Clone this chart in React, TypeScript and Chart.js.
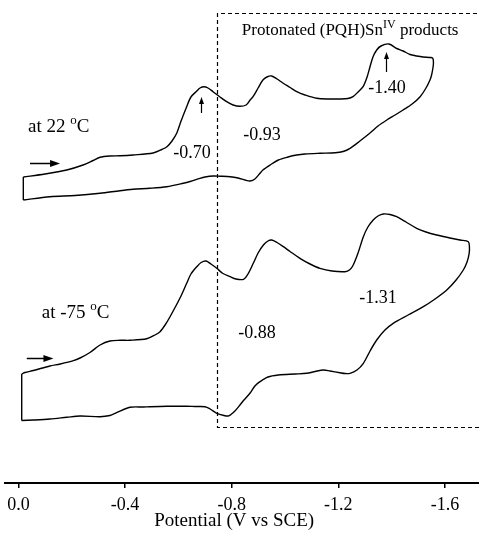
import React, { useEffect, useRef } from "react";
import { Chart, registerables } from "chart.js";

Chart.register(...registerables);

// ---- x axis ticks (V vs SCE)
const X_TICKS = [0, -0.4, -0.8, -1.2, -1.6];
const X_TITLE = "Potential (V vs SCE)";

// ---- CV at 22 °C (arbitrary current units, offset trace)
const rtPotential = [
  -0.018, -0.099, -0.181, -0.242, -0.280, -0.306, -0.343, -0.381, -0.430, -0.505,
  -0.538, -0.557, -0.576, -0.594, -0.610, -0.631, -0.647, -0.669, -0.681, -0.696,
  -0.711, -0.730, -0.756, -0.781, -0.805, -0.831, -0.854, -0.869, -0.880, -0.899,
  -0.917, -0.932, -0.950, -0.970, -0.992, -1.019, -1.044, -1.075, -1.119, -1.169,
  -1.206, -1.236, -1.255, -1.274, -1.293, -1.308, -1.319, -1.330, -1.344, -1.360,
  -1.390, -1.419, -1.443, -1.469, -1.494, -1.518, -1.548, -1.555,
  -1.557, -1.555, -1.550, -1.544, -1.529, -1.507, -1.477, -1.443, -1.413, -1.382,
  -1.349, -1.319, -1.281, -1.244, -1.218, -1.188, -1.131, -1.075, -1.044, -1.011,
  -0.975, -0.944, -0.917, -0.906, -0.887, -0.869, -0.850, -0.824, -0.794, -0.756,
  -0.731, -0.700, -0.681, -0.644, -0.618, -0.556, -0.493, -0.430, -0.381, -0.306,
  -0.212, -0.118, -0.018,
];
const rtCurrent = [
  30.6, 30.9, 31.3, 31.8, 32.25, 32.57, 32.7, 32.72, 32.8, 33.0,
  33.35, 33.63, 34.2, 35.0, 36.2, 37.63, 38.6, 39.2, 39.5, 39.63,
  39.5, 39.13, 38.6, 38.13, 37.8, 37.67, 37.8, 38.3, 38.63, 39.5,
  40.3, 40.6, 40.7, 40.4, 40.0, 39.55, 39.13, 38.8, 38.47, 38.4,
  38.4, 38.45, 38.63, 39.1, 39.63, 40.6, 41.63, 42.6, 43.3, 43.7,
  43.9, 43.45, 43.2, 42.85, 42.7, 42.6, 42.55, 42.45,
  42.0, 41.5, 40.8, 40.3, 39.5, 38.63, 37.9, 37.3, 36.8, 36.3,
  35.7, 35.0, 34.2, 33.47, 33.15, 33.02, 32.97, 32.9, 32.8, 32.6,
  32.3, 31.8, 31.3, 30.97, 30.4, 30.2, 30.3, 30.5, 30.63, 30.68,
  30.7, 30.6, 30.47, 30.15, 29.97, 29.63, 29.47, 29.37, 29.23, 28.97,
  28.75, 28.63, 28.3,
];

// ---- CV at -75 °C
const ltPotential = [
  -0.012, -0.024, -0.056, -0.118, -0.156, -0.206, -0.231, -0.268, -0.306, -0.343,
  -0.381, -0.418, -0.481, -0.512, -0.531, -0.550, -0.568, -0.606, -0.631, -0.647,
  -0.669, -0.685, -0.704, -0.722, -0.744, -0.767, -0.794, -0.816, -0.844, -0.861,
  -0.881, -0.899, -0.919, -0.936, -0.950, -0.970, -0.994, -1.019, -1.056, -1.094,
  -1.131, -1.176, -1.225, -1.244, -1.256, -1.274, -1.294, -1.311, -1.331, -1.349,
  -1.369, -1.394, -1.419, -1.454, -1.494, -1.529, -1.569, -1.619, -1.657, -1.688,
  -1.692, -1.691, -1.683, -1.669, -1.642, -1.607, -1.563, -1.519, -1.462, -1.406,
  -1.375, -1.344, -1.319, -1.294, -1.270, -1.244, -1.225, -1.206, -1.169, -1.144,
  -1.113, -1.081, -1.038, -0.975, -0.936, -0.906, -0.887, -0.869, -0.846, -0.831,
  -0.812, -0.797, -0.787, -0.771, -0.744, -0.719, -0.700, -0.662, -0.631, -0.556,
  -0.493, -0.468, -0.418, -0.368, -0.343, -0.306, -0.231, -0.181, -0.118, -0.056,
  -0.012,
];
const ltCurrent = [
  10.9, 11.05, 11.25, 11.7, 11.9, 12.23, 12.5, 13.05, 13.8, 14.2,
  14.27, 14.27, 14.42, 14.8, 15.13, 15.8, 16.6, 18.5, 19.97, 20.9,
  21.63, 22.05, 22.2, 21.9, 21.47, 20.95, 20.63, 20.4, 20.37, 20.9,
  21.97, 23.0, 23.8, 24.2, 24.3, 24.05, 23.63, 23.15, 22.47, 21.9,
  21.47, 21.2, 21.13, 21.35, 21.8, 23.0, 24.63, 25.6, 26.3, 26.7,
  26.9, 26.85, 26.63, 26.1, 25.47, 25.1, 24.8, 24.5, 24.3, 24.13,
  23.6, 22.97, 22.1, 21.3, 20.3, 19.3, 18.4, 17.63, 16.8, 15.97,
  15.3, 14.3, 13.2, 11.97, 11.3, 10.97, 10.95, 11.03, 11.2, 11.3,
  11.15, 10.97, 10.9, 10.8, 10.6, 10.13, 9.7, 9.0, 8.3, 7.8,
  7.2, 6.85, 6.7, 6.75, 6.97, 7.4, 7.63, 7.65, 7.67, 7.67,
  7.63, 7.6, 7.57, 7.03, 6.75, 6.63, 6.7, 6.57, 6.4, 6.3,
  6.25,
];

// ---- peak labels
const peakLabels = ["-0.70", "-0.93", "-1.40", "-0.88", "-1.31"];
const peakLabelPotential = [-0.651, -0.914, -1.383, -0.895, -1.349];
const peakLabelCurrent = [32.5, 34.3, 39.0, 14.5, 18.0];

const FONT = "'Liberation Serif', 'Times New Roman', serif";

function toPoints(xs: number[], ys: number[]) {
  return xs.map((v, i) => ({ x: v, y: ys[i] }));
}
function edge(xs: number[], ys: number[]) {
  const n = xs.length - 1;
  return [
    { x: xs[n], y: ys[n] },
    { x: xs[0], y: ys[0] },
  ];
}

const annotationPlugin = {
  id: "cvAnnotations",
  afterDraw(chart: any) {
    const { ctx, scales } = chart;
    const X = (v: number) => scales.x.getPixelForValue(v);
    const Y = (v: number) => scales.y.getPixelForValue(v);
    ctx.save();
    ctx.strokeStyle = "#000";
    ctx.fillStyle = "#000";

    // dashed box of protonated products
    ctx.setLineDash([4, 3]);
    ctx.lineWidth = 1.2;
    const l = Math.round(X(-0.744)) + 0.5;
    const t = Math.round(Y(46.97)) + 0.5;
    const b = Math.round(Y(5.65)) + 0.5;
    const r = chart.width + 5;
    ctx.beginPath();
    ctx.moveTo(r, t);
    ctx.lineTo(l, t);
    ctx.lineTo(l, b);
    ctx.lineTo(r, b);
    ctx.stroke();
    ctx.setLineDash([]);

    // axis title, centred as in the original figure
    ctx.font = `19px ${FONT}`;
    ctx.textAlign = "center";
    ctx.textBaseline = "middle";
    ctx.fillText(X_TITLE, X(-0.809), chart.height - 12);

    // text helpers
    const drawSup = (
      x0: number,
      y0: number,
      parts: { text: string; sup?: boolean }[],
      size: number
    ) => {
      let x = x0;
      ctx.textAlign = "left";
      ctx.textBaseline = "alphabetic";
      for (const p of parts) {
        if (p.sup) {
          ctx.font = `${Math.round(size * 0.68)}px ${FONT}`;
          ctx.fillText(p.text, x, y0 - size * 0.42);
        } else {
          ctx.font = `${size}px ${FONT}`;
          ctx.fillText(p.text, x, y0);
        }
        x += ctx.measureText(p.text).width;
      }
    };

    drawSup(X(-0.036), Y(35.1), [{ text: "at 22 " }, { text: "o", sup: true }, { text: "C" }], 19);
    drawSup(X(-0.087), Y(16.47), [{ text: "at -75 " }, { text: "o", sup: true }, { text: "C" }], 19);
    drawSup(
      X(-0.838),
      Y(44.8),
      [{ text: "Protonated (PQH)Sn" }, { text: "IV", sup: true }, { text: " products" }],
      17
    );

    // peak labels
    ctx.font = `18px ${FONT}`;
    ctx.textAlign = "center";
    ctx.textBaseline = "alphabetic";
    peakLabels.forEach((s, i) => {
      ctx.fillText(s, X(peakLabelPotential[i]), Y(peakLabelCurrent[i]));
    });

    // horizontal arrows (scan direction)
    const hArrow = (v1: number, v2: number, c: number) => {
      const x1 = X(v1), x2 = X(v2), y = Math.round(Y(c)) + 0.5;
      ctx.lineWidth = 1.5;
      ctx.beginPath();
      ctx.moveTo(x1, y);
      ctx.lineTo(x2 - 6, y);
      ctx.stroke();
      ctx.beginPath();
      ctx.moveTo(x2, y);
      ctx.lineTo(x2 - 10, y - 3.5);
      ctx.lineTo(x2 - 10, y + 3.5);
      ctx.closePath();
      ctx.fill();
    };
    hArrow(-0.043, -0.156, 32.0);
    hArrow(-0.031, -0.131, 12.53);

    // vertical arrows (peak markers)
    const vArrow = (v: number, c1: number, c2: number) => {
      const x = Math.round(X(v)) + 0.5, y1 = Y(c1), y2 = Y(c2);
      ctx.lineWidth = 1.2;
      ctx.beginPath();
      ctx.moveTo(x, y1);
      ctx.lineTo(x, y2 + 4);
      ctx.stroke();
      ctx.beginPath();
      ctx.moveTo(x, y2);
      ctx.lineTo(x - 2.5, y2 + 7);
      ctx.lineTo(x + 2.5, y2 + 7);
      ctx.closePath();
      ctx.fill();
    };
    vArrow(-0.685, 37.0, 38.6);
    vArrow(-1.378, 41.1, 43.1);

    ctx.restore();
  },
};

export default function App() {
  const ref = useRef<HTMLCanvasElement | null>(null);

  useEffect(() => {
    if (!ref.current) return;
    const line = {
      showLine: true,
      borderColor: "#000",
      borderWidth: 1.4,
      pointRadius: 0,
      tension: 0.3,
      fill: false,
    };
    const chart = new Chart(ref.current, {
      type: "scatter",
      data: {
        datasets: [
          { label: "22 °C", data: toPoints(rtPotential, rtCurrent), ...line },
          { label: "22 °C edge", data: edge(rtPotential, rtCurrent), ...line, tension: 0 },
          { label: "-75 °C", data: toPoints(ltPotential, ltCurrent), ...line },
          { label: "-75 °C edge", data: edge(ltPotential, ltCurrent), ...line, tension: 0 },
        ],
      },
      options: {
        animation: false,
        responsive: true,
        maintainAspectRatio: false,
        layout: { padding: { left: 5, right: 0, top: 0, bottom: 0 } },
        plugins: {
          legend: { display: false },
          tooltip: { enabled: false },
        },
        scales: {
          x: {
            type: "linear",
            reverse: true,
            min: -1.7279,
            max: 0.0507,
            afterBuildTicks: (scale: any) => {
              scale.ticks = X_TICKS.map((v) => ({ value: v }));
            },
            afterFit: (scale: any) => {
              scale.height = 50;
            },
            ticks: {
              color: "#000",
              font: { family: FONT, size: 18 },
              padding: 6,
              maxRotation: 0,
              autoSkip: false,
              callback: (v: any) => Number(v).toFixed(1),
            },
            grid: {
              display: true,
              drawOnChartArea: false,
              drawTicks: true,
              tickLength: 5,
              color: "#000",
              lineWidth: 1.5,
            },
            border: { display: true, color: "#000", width: 2 },
            title: { display: false, text: X_TITLE },
          },
          y: {
            type: "linear",
            display: false,
            min: 0,
            max: 48.3,
          },
        },
      },
      plugins: [annotationPlugin],
    });
    return () => chart.destroy();
  }, []);

  return (
    <div
      style={{
        position: "fixed",
        left: 0,
        top: 0,
        width: 479,
        height: 533,
        background: "#fff",
      }}
    >
      <canvas ref={ref} />
    </div>
  );
}
